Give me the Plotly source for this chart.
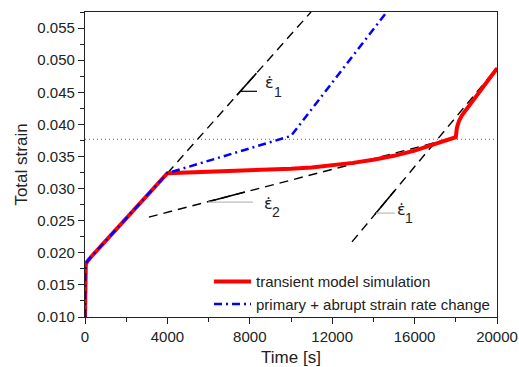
import plotly.graph_objects as go

# --- measured creep curves -------------------------------------------------
time_model = [0, 0, 10, 40, 100, 250, 4000, 5000, 6000, 7000, 8000, 9000, 10000,
              11000, 12000, 13000, 14000, 15000, 16000, 17000, 18000, 18050,
              18150, 18300, 18800, 19400, 20000]
strain_model = [0.0100, 0.0150, 0.0174, 0.0182, 0.0186, 0.0192, 0.0324, 0.0325,
                0.0326, 0.0327, 0.0328, 0.0329, 0.0331, 0.0333, 0.0336, 0.0340,
                0.0345, 0.0351, 0.0359, 0.0369, 0.0380, 0.0394, 0.0405, 0.0414,
                0.0436, 0.0462, 0.0487]

time_primary = [0, 0, 10, 40, 100, 250, 4000, 10000, 14650]
strain_primary = [0.0100, 0.0150, 0.0174, 0.0182, 0.0186, 0.0192, 0.0324, 0.0382, 0.0575]

# --- strain-rate guide lines (time span, strain at ends) ---------------------
rate1_upper_t = [4000, 10970]
rate1_upper_e = [0.0324, 0.0575]
rate2_t = [3100, 18000]
rate2_e = [0.02556, 0.0380]
rate1_lower_t = [12960, 20000]
rate1_lower_e = [0.0217, 0.0488]

threshold_strain = 0.03768

x_ticks = [0, 4000, 8000, 12000, 16000, 20000]
y_ticks = [0.010, 0.015, 0.020, 0.025, 0.030, 0.035, 0.040, 0.045, 0.050, 0.055]

FONT = "Arial, Liberation Sans, sans-serif"
GREEK = "DejaVu Sans, sans-serif"
INK = "#222222"


def on_line(ts, es, t):
    """Strain on a straight guide line at time t."""
    return es[0] + (es[1] - es[0]) * (t - ts[0]) / (ts[1] - ts[0])


def at_strain(ts, es, e):
    """Time at which a guide line reaches strain e."""
    return ts[0] + (ts[1] - ts[0]) * (e - es[0]) / (es[1] - es[0])


fig = go.Figure()

dash_style = dict(color="black", width=1.4, dash="9px,6px")
for ts, es in [(rate1_upper_t, rate1_upper_e), (rate2_t, rate2_e),
               (rate1_lower_t, rate1_lower_e)]:
    fig.add_trace(go.Scatter(x=ts, y=es, mode="lines", line=dash_style,
                             showlegend=False, hoverinfo="skip"))

# solid slope markers with a leader line and an "epsilon-dot" label
markers = [
    # guide line, solid span, leader strain, leader end, leader colour,
    # subscript, label anchor (epsilon centre, time / strain)
    dict(ts=rate1_upper_t, es=rate1_upper_e, span=(7370, 8320), lead=0.04515,
         lead_end=8350, col="black", sub="1", at=(8980, 0.0466)),
    dict(ts=rate2_t, es=rate2_e, span=(5970, 7766), lead=0.02789,
         lead_end=8155, col="#bbbbbb", sub="2", at=(8900, 0.02790)),
    dict(ts=rate1_lower_t, es=rate1_lower_e, span=(14077, 15048), lead=0.02618,
         lead_end=15048, col="#bbbbbb", sub="1", at=(15340, 0.02690)),
]
for m in markers:
    ts, es = m["ts"], m["es"]
    t0, t1 = m["span"]
    fig.add_trace(go.Scatter(x=[t0, t1], y=[on_line(ts, es, t0), on_line(ts, es, t1)],
                             mode="lines", line=dict(color="black", width=1.6),
                             showlegend=False, hoverinfo="skip"))
    t_lead_start = max(at_strain(ts, es, m["lead"]), t0)
    fig.add_trace(go.Scatter(x=[t_lead_start, m["lead_end"]], y=[m["lead"], m["lead"]],
                             mode="lines", line=dict(color=m["col"], width=1.2),
                             showlegend=False, hoverinfo="skip"))
    tx, ey = m["at"]
    fig.add_annotation(x=tx, y=ey, text="ε\u0307", showarrow=False,
                       xanchor="center", yanchor="middle", yshift=-1,
                       font=dict(family=GREEK, size=16, color=INK))
    fig.add_annotation(x=tx, y=ey, text=m["sub"], showarrow=False, yshift=-10, xshift=2,
                       xanchor="left", yanchor="middle",
                       font=dict(family=FONT, size=14, color=INK))

fig.add_trace(go.Scatter(x=[0, 20000], y=[threshold_strain, threshold_strain],
                         mode="lines", line=dict(color="#666666", width=1, dash="1px,3px"),
                         showlegend=False, hoverinfo="skip"))

fig.add_trace(go.Scatter(x=time_model, y=strain_model, mode="lines",
                         name="transient model simulation",
                         line=dict(color="#ff0000", width=4)))
fig.add_trace(go.Scatter(x=time_primary, y=strain_primary, mode="lines",
                         name="primary + abrupt strain rate change",
                         line=dict(color="#0000ff", width=2.5, dash="8px,4px,2px,4px")))

axis_common = dict(
    showgrid=False, zeroline=False, showline=True, linecolor=INK, linewidth=1.2,
    mirror=True, ticks="outside", ticklen=6, tickwidth=1.2, tickcolor=INK,
    tickfont=dict(family=FONT, size=15, color=INK),
)

fig.update_xaxes(
    **axis_common, range=[0, 20000], tickvals=x_ticks,
    ticktext=[str(v) for v in x_ticks],
    minor=dict(ticks="outside", ticklen=4, tickwidth=1.2, tickcolor=INK, dtick=2000),
    title=dict(text="Time [s]", font=dict(family=FONT, size=17, color=INK), standoff=8),
)
fig.update_yaxes(
    **axis_common, range=[0.010, 0.0575], tickvals=y_ticks,
    ticktext=[f"{v:.3f}" for v in y_ticks],
    minor=dict(ticks="outside", ticklen=4, tickwidth=1.2, tickcolor=INK, dtick=0.0025,
               tick0=0.010),
    title=dict(text="Total strain", font=dict(family=FONT, size=17, color=INK), standoff=5),
)

fig.update_layout(
    width=519, height=367,
    margin=dict(l=85, r=22, t=12, b=50, autoexpand=False),
    plot_bgcolor="white", paper_bgcolor="white",
    legend=dict(x=0.301, y=-0.011, xanchor="left", yanchor="bottom",
                bgcolor="rgba(0,0,0,0)", font=dict(family=FONT, size=15, color=INK),
                tracegroupgap=0, itemwidth=37),
)

fig.write_html("out.html")
